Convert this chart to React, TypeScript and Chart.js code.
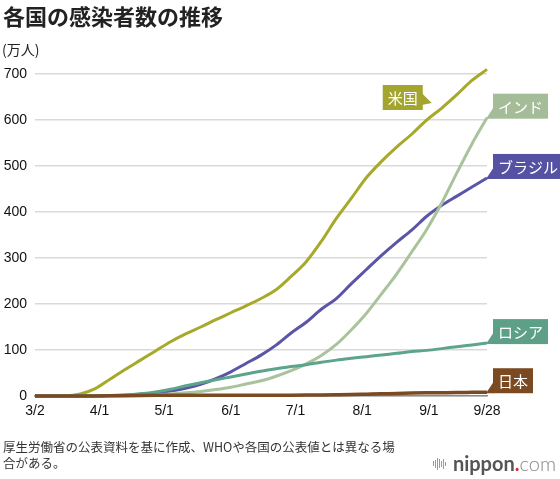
import React, { useEffect, useRef } from "react";
import { Chart, registerables } from "chart.js";

Chart.register(...registerables);

// Days since 3/2 (weekly samples through 9/28)
const days = [0, 7, 14, 21, 28, 35, 42, 49, 56, 63, 70, 77, 84, 91, 98, 105, 112, 119, 126, 133, 140, 147, 154, 161, 168, 175, 182, 189, 196, 203, 210];
const tickDays = [0, 30, 60, 91, 121, 152, 183, 210];
const tickLabels = ["3/2", "4/1", "5/1", "6/1", "7/1", "8/1", "9/1", "9/28"];
const yTicks = [0, 100, 200, 300, 400, 500, 600, 700];

// Cumulative cases, 万人
const usCases = [0.01, 0.06, 0.45, 4.4, 16, 37, 58, 78, 98, 118, 135, 150, 166, 181, 196, 212, 231, 260, 292, 336, 386, 430, 475, 510, 541, 569, 600, 626, 655, 686, 710];
const indiaCases = [0, 0, 0, 0.05, 0.12, 0.45, 0.9, 1.7, 2.8, 4.6, 7, 10, 14, 19, 26, 33, 43, 55, 70, 88, 112, 144, 180, 222, 265, 313, 362, 420, 485, 548, 605];
const brazilCases = [0, 0, 0, 0.2, 0.4, 1.2, 2.3, 4, 6.7, 10.8, 17, 25.5, 37.5, 52.6, 70.7, 88.8, 110.6, 136.9, 160.4, 188.5, 211.8, 244.2, 275, 305.7, 334, 360.5, 390.8, 414.7, 434.5, 454.5, 474];
const russiaCases = [0, 0, 0, 0.05, 0.15, 0.65, 1.85, 4.7, 8.7, 14.5, 22.2, 29, 35.3, 41.5, 47.7, 53.8, 59.2, 64.1, 68.1, 73.3, 78, 81.9, 85.5, 89.2, 92.8, 96.5, 99.2, 103, 107.2, 111.1, 115];
const japanCases = [0.03, 0.05, 0.08, 0.11, 0.19, 0.37, 0.75, 1.1, 1.38, 1.52, 1.58, 1.63, 1.66, 1.68, 1.71, 1.75, 1.8, 1.87, 2.0, 2.2, 2.6, 3.1, 3.9, 4.7, 5.6, 6.3, 6.8, 7.2, 7.6, 7.9, 8.2];

const seriesNames = ["日本", "ロシア", "インド", "ブラジル", "米国"];
const seriesValues = [japanCases, russiaCases, indiaCases, brazilCases, usCases];
const lineColors = ["#7a4a22", "#5ca48c", "#a9c39d", "#5a55a6", "#a6a92a"];
const boxColors = ["#7a4a22", "#5e9f88", "#a4bc98", "#5652a3", "#a3a52e"];
const lineWidths = [3.5, 3, 3, 3, 3];

const US_ANCHOR_INDEX = 26;

function drawLabels(chart: any) {
  const ctx: CanvasRenderingContext2D = chart.ctx;
  ctx.save();
  ctx.font = "15px 'Noto Sans CJK JP'";
  ctx.textBaseline = "middle";
  ctx.textAlign = "left";
  chart.data.datasets.forEach((ds: any, i: number) => {
    const meta = chart.getDatasetMeta(i);
    const name = seriesNames[i];
    const color = boxColors[i];
    const tw = ctx.measureText(name).width;
    const w = tw + 10;
    const h = 25;
    ctx.fillStyle = color;
    if (name === "米国") {
      const p = meta.data[US_ANCHOR_INDEX];
      const right = p.x - 4;
      const top = p.y - 35;
      const left = right - w;
      ctx.fillRect(left, top, w, h);
      ctx.beginPath();
      ctx.moveTo(right - 1, top + 8);
      ctx.lineTo(p.x + 5, p.y - 17);
      ctx.lineTo(right - 1, top + 20);
      ctx.closePath();
      ctx.fill();
      ctx.fillStyle = "#ffffff";
      ctx.fillText(name, left + 5, top + h / 2 + 1);
    } else {
      const p = meta.data[meta.data.length - 1];
      const left = p.x + 6;
      const bottom = p.y + 1;
      const top = bottom - h;
      ctx.fillRect(left, top, w, h);
      ctx.beginPath();
      ctx.moveTo(left + 1, bottom - 12);
      ctx.lineTo(left + 1, bottom);
      ctx.lineTo(p.x - 1, p.y + 1);
      ctx.closePath();
      ctx.fill();
      ctx.fillStyle = "#ffffff";
      ctx.fillText(name, left + 5, top + h / 2 + 1);
    }
  });
  ctx.restore();
}

const labelPlugin = {
  id: "seriesLabels",
  afterDatasetsDraw(chart: any) {
    drawLabels(chart);
  },
};

export default function App() {
  const canvasRef = useRef<HTMLCanvasElement | null>(null);

  useEffect(() => {
    document.body.style.margin = "0";
    const canvas = canvasRef.current;
    if (!canvas) return;
    const chart = new Chart(canvas, {
      type: "line",
      data: {
        datasets: seriesNames.map((name, i) => ({
          label: name,
          data: days.map((d, j) => ({ x: d, y: seriesValues[i][j] })),
          borderColor: lineColors[i],
          backgroundColor: lineColors[i],
          borderWidth: lineWidths[i],
          pointRadius: 0,
          cubicInterpolationMode: "monotone" as const,
          fill: false,
          clip: false as any,
        })),
      },
      options: {
        animation: false,
        responsive: false,
        events: [],
        layout: { padding: { left: 0, right: 73, top: 74, bottom: 53 } },
        plugins: {
          legend: { display: false },
          tooltip: { enabled: false },
          title: { display: false },
        },
        scales: {
          x: {
            type: "linear",
            min: 0,
            max: 210,
            afterFit: (s: any) => {
              s.height = 30;
            },
            afterBuildTicks: (s: any) => {
              s.ticks = tickDays.map((v) => ({ value: v }));
            },
            grid: { display: false, drawTicks: false },
            border: { display: true, color: "#8a8a8a", width: 1.5 },
            ticks: {
              autoSkip: false,
              maxRotation: 0,
              padding: 7,
              color: "#111",
              font: { family: "'Liberation Sans', Arial, sans-serif", size: 14 },
              callback: (v: any) => {
                const idx = tickDays.indexOf(Number(v));
                return idx >= 0 ? tickLabels[idx] : "";
              },
            },
          },
          y: {
            min: 0,
            max: 700,
            afterFit: (s: any) => {
              s.width = 35;
            },
            afterBuildTicks: (s: any) => {
              s.ticks = yTicks.map((v) => ({ value: v }));
            },
            grid: { color: "#d9d9d9", lineWidth: 1.5, drawTicks: false },
            border: { display: false },
            ticks: {
              padding: 8,
              color: "#111",
              font: { family: "'Liberation Sans', Arial, sans-serif", size: 14 },
            },
          },
        },
      },
      plugins: [labelPlugin],
    });
    return () => chart.destroy();
  }, []);

  const bars = [5, 8, 12, 9, 6, 10, 4];

  return (
    <div style={{ position: "relative", width: 560, height: 479, background: "#fff", overflow: "hidden" }}>
      <canvas ref={canvasRef} width={560} height={479} style={{ position: "absolute", left: 0, top: 0, width: 560, height: 479 }} />
      <div
        style={{
          position: "absolute",
          left: 3,
          top: 2,
          fontFamily: "'Noto Sans CJK JP', sans-serif",
          fontWeight: 700,
          fontSize: 22,
          lineHeight: "26px",
          color: "#222",
          whiteSpace: "nowrap",
        }}
      >
        各国の感染者数の推移
      </div>
      <div
        style={{
          position: "absolute",
          left: 2,
          top: 40,
          fontFamily: "'Noto Sans CJK JP', sans-serif",
          fontSize: 14,
          lineHeight: "18px",
          color: "#222",
          whiteSpace: "nowrap",
        }}
      >
        (万人)
      </div>
      <div
        style={{
          position: "absolute",
          left: 3,
          top: 439,
          fontFamily: "'Noto Sans CJK JP', sans-serif",
          fontSize: 12.5,
          lineHeight: "16px",
          color: "#333",
          whiteSpace: "nowrap",
        }}
      >
        厚生労働省の公表資料を基に作成、WHOや各国の公表値とは異なる場
        <br />
        合がある。
      </div>
      <div
        style={{
          position: "absolute",
          left: 433,
          top: 457,
          height: 13,
          display: "flex",
          alignItems: "center",
          gap: 1,
        }}
      >
        {bars.map((b, i) => (
          <div key={i} style={{ width: 1, height: b, background: "#9a9a9a" }} />
        ))}
      </div>
      <div
        style={{
          position: "absolute",
          right: 4,
          top: 450,
          fontFamily: "Lato, 'Open Sans', sans-serif",
          fontSize: 20,
          lineHeight: "26px",
          whiteSpace: "nowrap",
        }}
      >
        <span style={{ fontWeight: 700, color: "#555" }}>nippon</span>
        <span style={{ fontWeight: 700, color: "#d7282f" }}>.</span>
        <span style={{ fontWeight: 300, color: "#888" }}>com</span>
      </div>
    </div>
  );
}
